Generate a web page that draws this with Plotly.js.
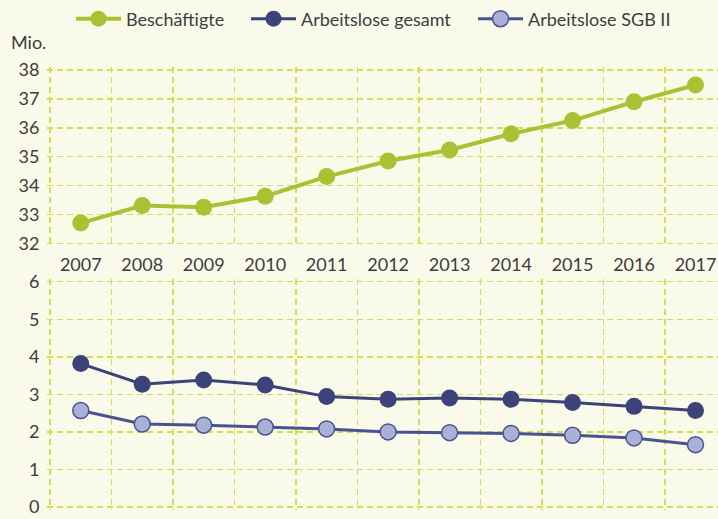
<!DOCTYPE html>
<html>
<head>
<meta charset="utf-8">
<script src="https://cdn.plot.ly/plotly-3.0.1.min.js"></script>
<style>html,body{margin:0;padding:0;background:#f9faea;}#chart{width:718px;height:519px;}</style>
</head>
<body>
<div id="chart"></div>
<script>
const years = [2007, 2008, 2009, 2010, 2011, 2012, 2013, 2014, 2015, 2016, 2017];
const beschaeftigte = [32.70, 33.31, 33.25, 33.63, 34.31, 34.85, 35.23, 35.79, 36.25, 36.90, 37.48];
const arbeitsloseGesamt = [3.82, 3.27, 3.38, 3.25, 2.94, 2.87, 2.90, 2.87, 2.78, 2.68, 2.57];
const arbeitsloseSGB2 = [2.57, 2.21, 2.18, 2.13, 2.08, 2.00, 1.98, 1.96, 1.91, 1.84, 1.66];
const yTicksTop = [32, 33, 34, 35, 36, 37, 38];
const yTicksBottom = [0, 1, 2, 3, 4, 5, 6];
const seriesNames = ['Beschäftigte', 'Arbeitslose gesamt', 'Arbeitslose SGB II'];

const green = '#abc134', navy = '#3c437a', lightBlue = '#a9b2d6', navyLine = '#4a5391';
const gridColor = '#cfe052';
const textColor = '#3d3d3d';
const FONT = 'Lato, "Open Sans", sans-serif';

const traces = [
  {x: years, y: beschaeftigte, name: seriesNames[0], xaxis: 'x2', yaxis: 'y2', mode: 'lines+markers', legend: 'legend',
   line: {color: green, width: 4}, marker: {color: green, size: 17}},
  {x: years, y: arbeitsloseGesamt, name: seriesNames[1], xaxis: 'x', yaxis: 'y', mode: 'lines+markers', legend: 'legend2',
   line: {color: navy, width: 3}, marker: {color: navy, size: 17}},
  {x: years, y: arbeitsloseSGB2, name: seriesNames[2], xaxis: 'x', yaxis: 'y', mode: 'lines+markers', legend: 'legend3',
   line: {color: navyLine, width: 3}, marker: {color: lightBlue, size: 16, line: {color: navyLine, width: 1.5}}}
];

// plot area (visible grid): x 50..718, y 70..507
const PX = 61.2; // px per year
const pad = 3;   // px padding so edge gridlines are drawn (Plotly clips grid within 1px of the edge)
const xRange = [2006.5 - pad / PX, 2006.5 + (668 - pad) / PX];
const minorGrid = {tick0: 2006.5, dtick: 1, showgrid: true, gridcolor: gridColor, gridwidth: 1.5, griddash: '6px,4px', ticks: ''};
const baseX = {range: xRange, tickmode: 'array', tickvals: years, ticktext: years.map(String), showgrid: false, zeroline: false,
  showline: false, ticks: '', minor: minorGrid, fixedrange: true,
  tickfont: {family: FONT, size: 18, color: textColor}};
const baseY = {tickmode: 'array', showgrid: true, gridcolor: gridColor, gridwidth: 1.5, griddash: '6px,4px', zeroline: false,
  showline: false, ticks: 'outside', ticklen: 3, tickcolor: 'rgba(0,0,0,0)', fixedrange: true,
  tickfont: {family: FONT, size: 18, color: textColor}};

const topPU = 28.9, botPU = 37.5;
const plotTop = 70 - pad, plotBot = 507 + pad;
const H = plotBot - plotTop;
const frac = (py) => (plotBot - py) / H;
const legendBase = {orientation: 'h', xanchor: 'left', y: frac(19), yanchor: 'middle', itemwidth: 45,
  font: {family: FONT, size: 18, color: textColor}, bgcolor: 'rgba(0,0,0,0)'};

const layout = {
  width: 718, height: 519,
  margin: {l: 50 - pad, r: 0, t: plotTop, b: 519 - plotBot, pad: 0},
  paper_bgcolor: '#f9faea', plot_bgcolor: '#f9faea',
  font: {family: FONT, color: textColor, size: 18},
  showlegend: true,
  legend: Object.assign({}, legendBase, {x: (71 - 47) / 671}),
  legend2: Object.assign({}, legendBase, {x: (246 - 47) / 671}),
  legend3: Object.assign({}, legendBase, {x: (473 - 47) / 671}),
  xaxis: Object.assign({}, baseX, {anchor: 'y', showticklabels: false}),
  xaxis2: Object.assign({}, baseX, {anchor: 'y2', showticklabels: true, ticklabelstandoff: 6}),
  yaxis: Object.assign({}, baseY, {domain: [0, frac(281.7 - pad)],
    range: [0 - pad / botPU, 6 + pad / botPU], tickvals: yTicksBottom}),
  yaxis2: Object.assign({}, baseY, {domain: [frac(243.3 + pad), 1],
    range: [32 - pad / topPU, 38 + pad / topPU], tickvals: yTicksTop}),
  annotations: [{text: 'Mio.', xref: 'paper', yref: 'paper', x: (9 - 47) / 671, xanchor: 'left',
    y: frac(42), yanchor: 'middle', showarrow: false, font: {family: FONT, size: 18, color: textColor}}]
};

Plotly.newPlot('chart', traces, layout, {displayModeBar: false, staticPlot: true});
</script>
</body>
</html>
